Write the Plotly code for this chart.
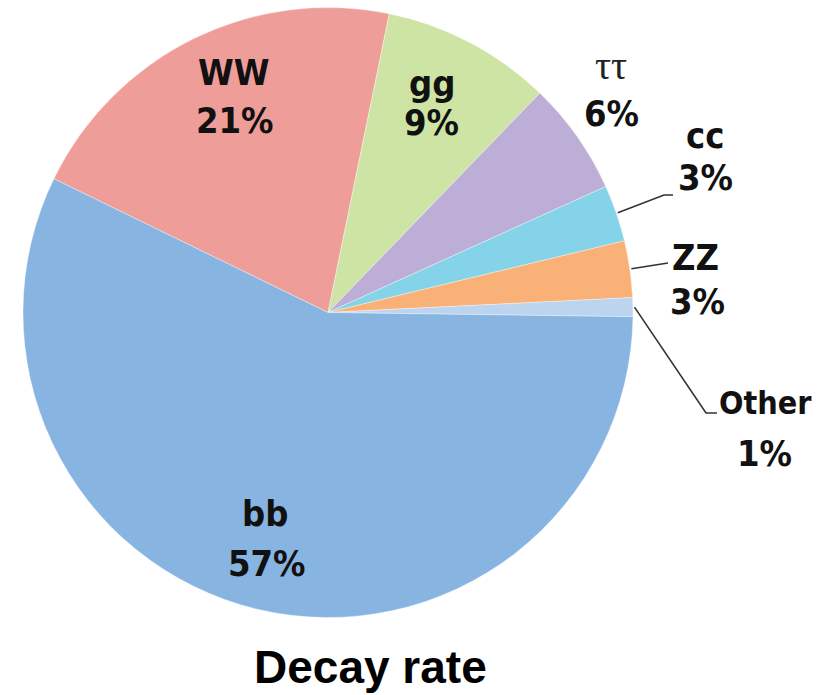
import math
import plotly.graph_objects as go

# Higgs decay channels, clockwise from the WW slice
channels = ["WW", "gg", "ττ", "cc", "ZZ", "Other", "bb"]
shares = [21, 9, 6, 3, 3, 1, 57]
colors = ["#ef9d99", "#cde4a4", "#bdaed8", "#84d3e8", "#fab177", "#bdd4ef", "#88b4e2"]

W, H = 819, 695
cx, cy, R = 328, 312.5, 305          # pie centre and radius in pixels
rotation = -64                        # start angle of the first slice (deg, clockwise from 12 o'clock)

label_family = "DejaVu Sans Condensed, Liberation Sans Narrow, DejaVu Sans, sans-serif"
label_font = dict(family=label_family, size=36, color="#111111")
narrow_font = dict(family=label_family, size=32, color="#111111")   # long name near the right edge
tau_font = dict(family="Liberation Serif, DejaVu Serif, serif", size=40, color="#222222")


def px(x, y):
    return x / W, 1 - y / H


fig = go.Figure(go.Pie(
    labels=channels,
    values=shares,
    sort=False,
    direction="clockwise",
    rotation=rotation,
    marker=dict(colors=colors, line=dict(width=0.6, color="rgba(255,255,255,0.6)")),
    textinfo="none",
    hoverinfo="label+percent",
    domain=dict(x=[(cx - R) / W, (cx + R) / W], y=[1 - (cy + R) / H, 1 - (cy - R) / H]),
    showlegend=False,
))


def slice_anchor(name, extra=1.5):
    """Point on the rim at the middle angle of a slice, in pixels."""
    total = sum(shares)
    cum = 0
    for n, v in zip(channels, shares):
        if n == name:
            theta = math.radians(rotation + (cum + v / 2) / total * 360)
            return cx + (R + extra) * math.sin(theta), cy - (R + extra) * math.cos(theta)
        cum += v


share_of = dict(zip(channels, shares))

# label placement: (name centre, percent centre) in pixels
label_pos = {
    "WW": ((233, 73), (235, 121)),
    "gg": ((432, 83), (431, 122)),
    "ττ": ((611, 66), (611, 113)),
    "cc": ((705, 135), (705, 178)),
    "ZZ": ((695, 257), (697, 301)),
    "Other": ((765, 403), (764, 453)),
    "bb": ((265, 513), (267, 563)),
}

annotations = []
for name, (npos, ppos) in label_pos.items():
    nx, ny = px(*npos)
    qx, qy = px(*ppos)
    if name == "ττ":
        name_text, name_font = name, tau_font
    elif name == "Other":
        name_text, name_font = f"<b>{name}</b>", narrow_font
    else:
        name_text, name_font = f"<b>{name}</b>", label_font
    annotations.append(dict(x=nx, y=ny, xref="paper", yref="paper", text=name_text,
                            showarrow=False, xanchor="center", yanchor="middle", font=name_font))
    annotations.append(dict(x=qx, y=qy, xref="paper", yref="paper", text=f"<b>{share_of[name]}%</b>",
                            showarrow=False, xanchor="center", yanchor="middle", font=label_font))

# title under the pie
tx, ty = px(370, 667)
annotations.append(dict(x=tx, y=ty, xref="paper", yref="paper", text="<b>Decay rate</b>",
                        showarrow=False, xanchor="center", yanchor="middle",
                        font=dict(family="Liberation Sans, Arial, sans-serif", size=46, color="#000000")))

# leader lines from small slices to their labels (elbow points in pixels)
leader_paths = {
    "cc": [(664, 195), (673, 195)],
    "ZZ": [(668, 263)],
    "Other": [(706, 413), (717, 413)],
}
shapes = []
for name, pts in leader_paths.items():
    ax, ay = slice_anchor(name)
    coords = [px(ax, ay)] + [px(x, y) for x, y in pts]
    path = "M " + " L ".join(f"{x:.5f},{y:.5f}" for x, y in coords)
    shapes.append(dict(type="path", path=path, xref="paper", yref="paper",
                       line=dict(color="#333333", width=1.6)))

fig.update_layout(
    width=W, height=H,
    margin=dict(l=0, r=0, t=0, b=0),
    paper_bgcolor="white",
    plot_bgcolor="white",
    annotations=annotations,
    shapes=shapes,
)

fig.write_html("out.html")
